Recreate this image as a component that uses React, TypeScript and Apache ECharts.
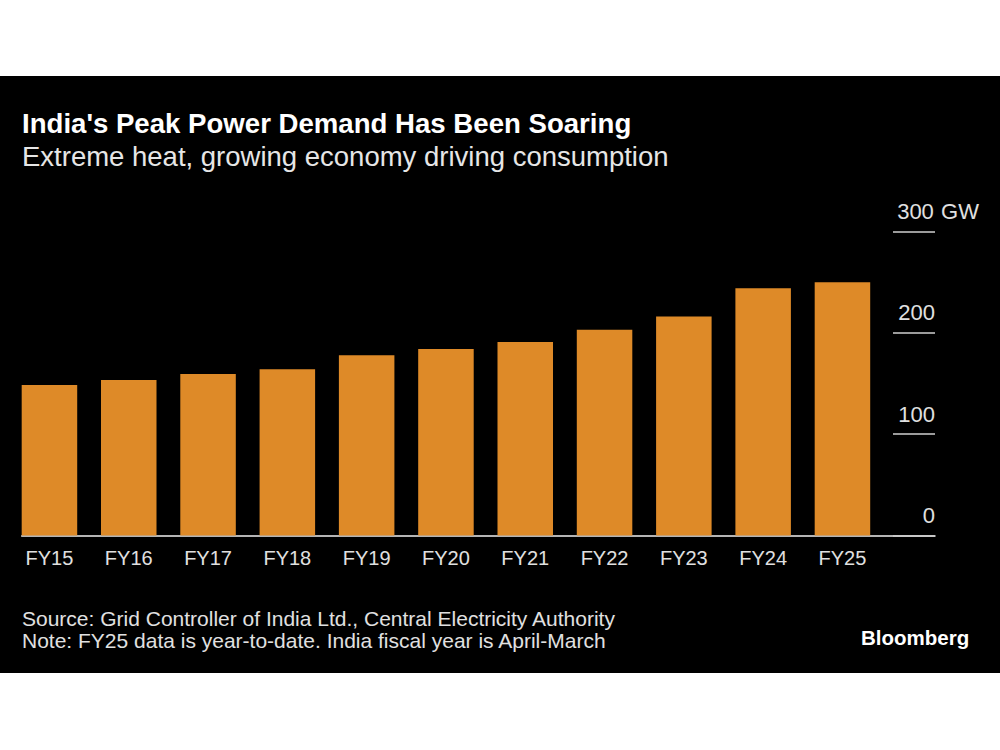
import React, { useEffect, useRef } from "react";
import * as echarts from "echarts";

const categories = ["FY15", "FY16", "FY17", "FY18", "FY19", "FY20", "FY21", "FY22", "FY23", "FY24", "FY25"];
const peakDemandGW = [148.5, 153.5, 159.4, 164, 178, 184, 191, 203, 216, 244, 250];
const yTicks = { min: 0, max: 300, interval: 100 };

const titleText = "India's Peak Power Demand Has Been Soaring";
const subtitleText = "Extreme heat, growing economy driving consumption";
const sourceText = "Source: Grid Controller of India Ltd., Central Electricity Authority";
const noteText = "Note: FY25 data is year-to-date. India fiscal year is April-March";
const brandText = "Bloomberg";

const FONT = "'Liberation Sans', Arial, Helvetica, sans-serif";

export default function App() {
  const ref = useRef<HTMLDivElement>(null);

  useEffect(() => {
    if (!ref.current) return;
    const chart = echarts.init(ref.current, undefined, { renderer: "svg" });
    const option: any = {
      animation: false,
      backgroundColor: "#ffffff",
      textStyle: { fontFamily: FONT },
      graphic: [
        {
          type: "rect",
          z: -10,
          silent: true,
          shape: { x: 0, y: 76, width: 1000, height: 597 },
          style: { fill: "#000000" },
        },
      ],
      title: [
        {
          text: titleText,
          left: 22,
          top: 107,
          padding: 0,
          textStyle: { color: "#ffffff", fontSize: 27.6, fontWeight: "bold", fontFamily: FONT, lineHeight: 32 },
        },
        {
          text: subtitleText,
          left: 22,
          top: 141,
          padding: 0,
          textStyle: { color: "#e6e6e6", fontSize: 27.5, fontWeight: "normal", fontFamily: FONT, lineHeight: 30 },
        },
        {
          text: sourceText + "\n" + noteText,
          left: 22,
          top: 607,
          padding: 0,
          textStyle: { color: "#e0e0e0", fontSize: 21, fontWeight: "normal", fontFamily: FONT, lineHeight: 22 },
        },
        {
          text: brandText,
          left: 861,
          top: 625,
          padding: 0,
          textStyle: { color: "#ffffff", fontSize: 20.5, fontWeight: "bold", fontFamily: FONT, lineHeight: 24 },
        },
      ],
      grid: [
        { left: 9.8, right: 117.9, top: 231.5, bottom: 214.5, containLabel: false },
        { left: 21.7, right: 65, top: 231.5, bottom: 214.5, containLabel: false },
      ],
      xAxis: [
        {
          type: "category",
          gridIndex: 0,
          data: categories,
          axisLine: { show: false },
          axisTick: { show: false },
          axisLabel: {
            color: "#e0e0e0",
            fontSize: 20,
            fontFamily: FONT,
            lineHeight: 20,
            margin: 12,
            interval: 0,
          },
          splitLine: { show: false },
        },
        {
          type: "value",
          gridIndex: 1,
          min: 0,
          max: 1,
          axisLine: { show: true, onZero: false, lineStyle: { color: "#f0f0f0", width: 1.5 } },
          axisTick: { show: false },
          axisLabel: { show: false },
          splitLine: { show: false },
        },
      ],
      yAxis: [
        {
          type: "value",
          gridIndex: 0,
          min: yTicks.min,
          max: yTicks.max,
          interval: yTicks.interval,
          show: false,
        },
        {
          type: "value",
          gridIndex: 1,
          position: "right",
          min: yTicks.min,
          max: yTicks.max,
          interval: yTicks.interval,
          axisLine: { show: false, onZero: false },
          axisTick: { show: true, inside: true, length: 42, lineStyle: { color: "#cfcfcf", width: 1.5 } },
          splitLine: { show: false },
          axisLabel: {
            inside: true,
            align: "left",
            margin: 39,
            color: "#e0e0e0",
            fontSize: 22,
            fontFamily: FONT,
            lineHeight: 22,
            verticalAlign: "middle",
            padding: [0, 0, 40, 0],
            formatter: (v: number) => "{n|" + v + "}" + (v === yTicks.max ? " GW" : ""),
            rich: {
              n: { width: 39, align: "right", color: "#e0e0e0", fontSize: 22, fontFamily: FONT, lineHeight: 22 },
            },
          },
        },
      ],
      series: [
        {
          type: "bar",
          xAxisIndex: 0,
          yAxisIndex: 0,
          data: peakDemandGW,
          barCategoryGap: "30%",
          itemStyle: { color: "#DE8A28" },
          z: 2,
        },
      ],
    };
    chart.setOption(option);
    return () => chart.dispose();
  }, []);

  return (
    <div
      ref={ref}
      style={{ position: "absolute", left: 0, top: 0, width: 1000, height: 750 }}
    />
  );
}
